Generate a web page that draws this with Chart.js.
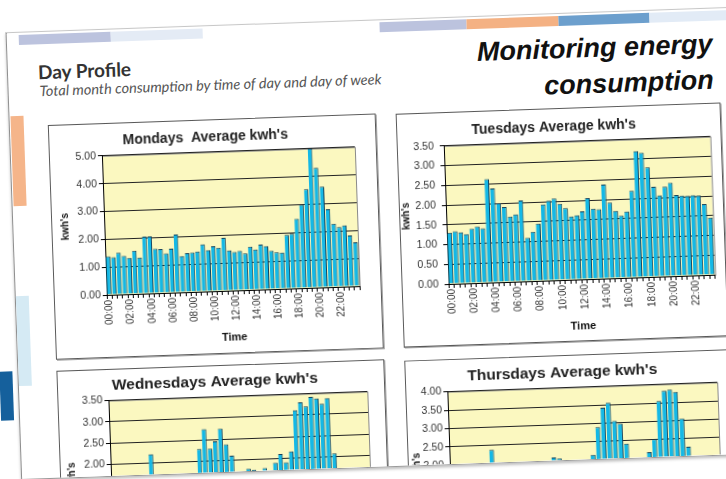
<!DOCTYPE html>
<html>
<head>
<meta charset="utf-8">
<script src="https://cdn.jsdelivr.net/npm/chart.js"></script>
<style>
  html, body { margin: 0; padding: 0; background: #fff; width: 726px; height: 479px; overflow: hidden; }
  #stage { position: absolute; left: 0; top: 0; width: 726px; height: 479px; transform: rotate(-2deg); transform-origin: 363px 240px; }
  #page { position: absolute; left: 13px; top: 20px; width: 800px; height: 446px; background: #fff;
          border-left: 1.5px solid #8e8e8e; border-top: 1px solid #c8c8c8; border-bottom: 1.5px solid #9a9a9a;
          box-shadow: 0 2px 3px rgba(0,0,0,0.25); overflow: hidden; }
  .strip { position: absolute; top: 2px; height: 10px; }
  .side { position: absolute; width: 13px; }
  #dayProfile { position: absolute; left: 30px; top: 28px; font: bold 19px Lato, sans-serif; color: #333; }
  #subtitle { position: absolute; left: 31px; top: 50px; font: italic 14.5px Lato, sans-serif; color: #555; white-space: nowrap; }
  #monitor { position: absolute; right: 95px; top: 17px; font: italic bold 27px 'Liberation Sans', Arial, sans-serif;
             color: #111; text-align: right; line-height: 36px; }
  .box { position: absolute; border: 1px solid #5a5a5a; box-shadow: 1px 1px 0 #a0a0a0; background: #fff; }
  .box canvas { display: block; }
  #blueShape { position: absolute; left: -5px; top: 359px; width: 13px; height: 49px; background: #15609c; }
</style>
</head>
<body>
<div id="stage">
  <div id="blueShape"></div>
  <div id="page">
    <div class="strip" style="left:12px;width:92px;background:#bcc3de"></div>
    <div class="strip" style="left:104px;width:92px;background:#e4ebf5"></div>
    <div class="strip" style="left:373px;width:87px;background:#bcc3de"></div>
    <div class="strip" style="left:460px;width:92px;background:#f4b183"></div>
    <div class="strip" style="left:552px;width:91px;background:#6c9fcd"></div>
    <div class="strip" style="left:643px;width:91px;background:#e2ebf6"></div>
    <div class="side" style="left:1px;top:83px;height:90px;background:#f5b58a"></div>
    <div class="side" style="left:0px;top:263px;height:90px;background:#d5eaf4"></div>

    <div id="dayProfile">Day Profile</div>
    <div id="subtitle">Total month consumption by time of day and day of week</div>
    <div id="monitor">Monitoring energy<br>consumption</div>

    <div class="box" style="left:38px;top:93px;width:326px;height:233px"><canvas id="monChart" width="326" height="233"></canvas></div>
    <div class="box" style="left:386px;top:94px;width:323px;height:232px"><canvas id="tueChart" width="323" height="232"></canvas></div>
    <div class="box" style="left:38px;top:339px;width:326px;height:245px"><canvas id="wedChart" width="326" height="245"></canvas></div>
    <div class="box" style="left:386px;top:341px;width:323px;height:245px"><canvas id="thuChart" width="323" height="245"></canvas></div>
  </div>
</div>

<script>
// Half-hour slots
const halfHours = ['00:00','00:30','01:00','01:30','02:00','02:30','03:00','03:30',
  '04:00','04:30','05:00','05:30','06:00','06:30','07:00','07:30',
  '08:00','08:30','09:00','09:30','10:00','10:30','11:00','11:30',
  '12:00','12:30','13:00','13:30','14:00','14:30','15:00','15:30',
  '16:00','16:30','17:00','17:30','18:00','18:30','19:00','19:30',
  '20:00','20:30','21:00','21:30','22:00','22:30','23:00','23:30'];

// Average kwh's per half hour
const monday = [1.38,1.35,1.5,1.38,1.3,1.55,1.3,2.05,2.05,1.6,1.58,1.42,1.58,2.08,1.3,1.4,
  1.42,1.45,1.7,1.48,1.62,1.55,1.9,1.45,1.38,1.42,1.32,1.55,1.45,1.62,1.55,1.38,
  1.32,1.3,1.93,1.97,2.5,3.0,3.55,5.0,4.3,3.62,2.8,2.27,2.15,2.2,1.83,1.58];
const tuesday = [1.3,1.33,1.3,1.25,1.38,1.43,1.38,2.62,2.38,2.0,1.9,1.65,1.7,2.05,1.1,1.25,
  1.45,1.93,2.02,2.07,1.93,1.82,1.6,1.63,1.72,2.05,1.78,1.76,2.38,1.92,1.7,1.58,
  1.68,2.2,3.2,3.15,2.78,2.28,2.06,2.27,2.37,2.05,2.03,2.02,2.03,2.02,1.8,1.45];
const wednesday = [1.35,1.3,1.32,1.28,1.3,1.4,1.35,2.2,1.65,1.4,1.35,1.3,1.45,1.5,1.4,1.6,
  2.28,2.75,2.28,2.45,2.75,2.37,2.1,1.6,1.55,1.78,1.75,1.6,1.78,1.6,1.9,2.1,
  1.9,2.15,3.12,3.3,3.2,3.42,3.38,3.25,3.38,2.07,1.7,1.65,1.6,1.55,1.5,1.4];
const thursday = [1.4,1.35,1.3,1.35,1.3,1.4,1.5,2.38,1.6,1.5,1.45,1.5,1.6,1.7,1.65,1.7,
  1.8,1.9,2.12,2.08,1.9,1.85,1.8,1.9,1.95,2.15,2.9,3.42,3.55,3.05,2.97,2.42,
  1.95,1.9,1.95,2.17,2.52,3.55,3.82,3.85,3.78,3.05,2.28,1.95,1.9,1.8,1.7,1.6];

const barColor = '#14b8e6';
const barEdge = '#12405a';
const plotYellow = '#fbf8c0';
Chart.defaults.font.family = "'Liberation Sans', Arial, sans-serif";

// Fond amarillo del area de trazado
const plotArea = {
  id: 'plotArea',
  beforeDraw(chart) {
    const { ctx, chartArea: a } = chart;
    ctx.save();
    ctx.fillStyle = plotYellow;
    ctx.fillRect(a.left, a.top, a.width, a.height);
    ctx.strokeStyle = '#8a8a8a';
    ctx.lineWidth = 1;
    ctx.strokeRect(a.left + 0.5, a.top + 0.5, a.width, a.height);
    ctx.restore();
  }
};

function makeChart(id, title, values, yMax, g) {
  const canvas = document.getElementById(id);
  return new Chart(canvas.getContext('2d'), {
    type: 'bar',
    data: {
      labels: halfHours,
      datasets: [{
        data: values,
        backgroundColor: barColor,
        borderColor: barEdge,
        borderWidth: { top: 1, right: 1, left: 0, bottom: 0 },
        borderSkipped: false,
        barPercentage: 0.85,
        categoryPercentage: 1
      }]
    },
    options: {
      responsive: false,
      animation: false,
      layout: { padding: { left: g.padLeft, right: g.padRight, top: 0, bottom: g.padBottom } },
      plugins: {
        legend: { display: false },
        tooltip: { enabled: false },
        title: {
          display: true,
          text: title,
          color: '#222',
          font: { size: g.titleSize, weight: 'bold' },
          padding: { top: g.titleTop, bottom: 6 }
        }
      },
      scales: {
        y: {
          min: 0,
          max: yMax,
          afterFit: s => { s.width = g.yWidth; },
          ticks: { stepSize: 0.5, color: '#333', font: { size: 10.5 }, padding: g.tickPad,
                   callback: v => v.toFixed(2) },
          grid: { color: '#222', lineWidth: 1, tickLength: 4, tickColor: '#000' },
          border: { color: '#000', width: 1 },
          title: { display: true, text: "kwh's", color: '#111', font: { size: 10, weight: 'bold' }, padding: 0 }
        },
        x: {
          afterFit: s => { s.height = g.xHeight; },
          ticks: { autoSkip: false, minRotation: 90, maxRotation: 90, color: '#333', font: { size: 10 }, padding: 1,
                   callback: (v, i) => (i % 4 === 0 ? halfHours[i] : '') },
          grid: { display: true, drawOnChartArea: false, tickLength: 4, tickColor: '#000' },
          border: { color: '#000', width: 1 },
          title: { display: true, text: 'Time', color: '#111', font: { size: 11, weight: 'bold' }, padding: { top: 4, bottom: 0 } }
        }
      }
    },
    plugins: [plotArea]
  });
}

makeChart('monChart', "Mondays  Average kwh's", monday, 5,
  { padLeft: 7, padRight: 21, padBottom: 8, titleTop: 9, titleSize: 14, yWidth: 45, xHeight: 54, tickPad: 2 });
makeChart('tueChart', "Tuesdays Average kwh's", tuesday, 3.5,
  { padLeft: 0, padRight: 10, padBottom: 7, titleTop: 10, titleSize: 14, yWidth: 46, xHeight: 54, tickPad: 6 });
makeChart('wedChart', "Wednesdays Average kwh's", wednesday, 3.5,
  { padLeft: 5, padRight: 17, padBottom: 5, titleTop: 6, titleSize: 15.5, yWidth: 45, xHeight: 61, tickPad: 2 });
makeChart('thuChart', "Thursdays Average kwh's", thursday, 4,
  { padLeft: 2, padRight: 12, padBottom: 5, titleTop: 7, titleSize: 15.5, yWidth: 39, xHeight: 61, tickPad: 2 });
</script>
</body>
</html>
